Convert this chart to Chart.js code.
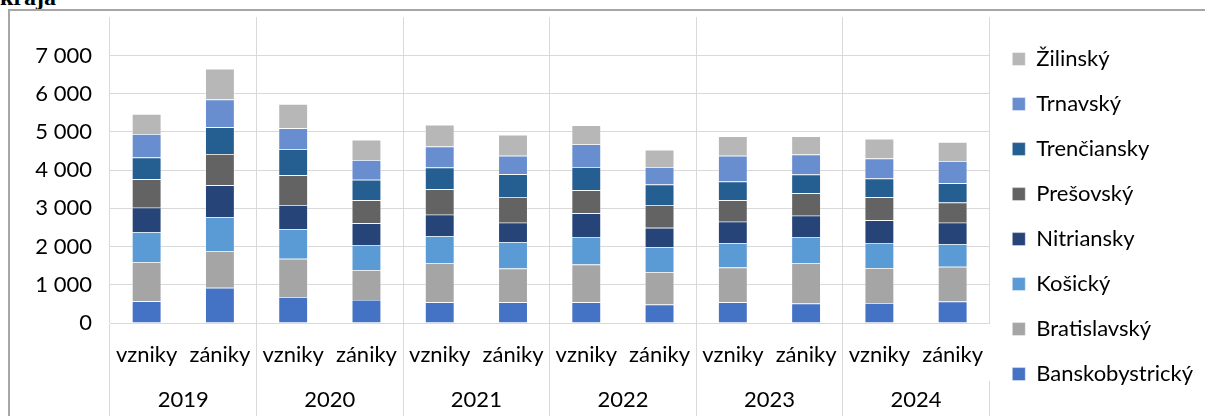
<!DOCTYPE html>
<html>
<head>
<meta charset="utf-8">
<script src="https://cdn.jsdelivr.net/npm/chart.js@4.4.1/dist/chart.umd.min.js"></script>
<style>
  body { margin: 0; background: #fff; width: 1205px; height: 416px; overflow: hidden; position: relative; }
  #title { position: absolute; left: 0; top: -16px; font: bold 24px "Liberation Serif", serif; color: #000; }
  #frame { position: absolute; left: 8px; top: 9px; width: 1205px; height: 420px; border: 2px solid #a6a6a6; box-sizing: border-box; }
  #wrap { position: absolute; left: 10px; top: 4px; width: 1195px; height: 412px; }
</style>
</head>
<body>
<div id="title">kraja</div>
<div id="frame"></div>
<div id="wrap"><canvas id="chartBar"></canvas></div>
<script>
const years = ["2019", "2020", "2021", "2022", "2023", "2024"];
const kinds = ["vzniky", "zániky"];
const yTicks = [0, 1000, 2000, 3000, 4000, 5000, 6000, 7000];

// bars in order: 2019 vzniky, 2019 zániky, 2020 vzniky, ...
const banskobystricky = [569, 919, 682, 604, 542, 542, 542, 481, 542, 507, 525, 560];
const bratislavsky    = [1023, 962, 998, 778, 1024, 884, 989, 849, 910, 1059, 910, 910];
const kosicky         = [788, 892, 778, 648, 709, 691, 709, 656, 639, 674, 647, 595];
const nitriansky      = [638, 832, 630, 577, 560, 508, 630, 507, 560, 568, 604, 560];
const presovsky       = [744, 813, 779, 604, 665, 673, 603, 595, 560, 587, 604, 525];
const trenciansky     = [569, 700, 674, 534, 568, 595, 604, 534, 490, 490, 490, 507];
const trnavsky        = [612, 726, 551, 516, 551, 481, 595, 455, 673, 524, 524, 577];
const zilinsky        = [525, 805, 639, 533, 569, 552, 499, 455, 508, 473, 517, 499];

const labelsBar = [];
years.forEach(function(){ kinds.forEach(function(k){ labelsBar.push(k) }) });

const gridGray = "#d9d9d9";
const font = { family: "Lato, 'Open Sans', sans-serif", size: 22 };

function ds(label, data, color){
  return { label: label, data: data, backgroundColor: color, borderColor: "rgba(255,255,255,0.6)", borderWidth: 0.7 };
}

const dataBar = {
  labels: labelsBar,
  datasets: [
    ds("Banskobystrický", banskobystricky, "#4472C4"),
    ds("Bratislavský", bratislavsky, "#A5A5A5"),
    ds("Košický", kosicky, "#5B9BD5"),
    ds("Nitriansky", nitriansky, "#264478"),
    ds("Prešovský", presovsky, "#636363"),
    ds("Trenčiansky", trenciansky, "#255E91"),
    ds("Trnavský", trnavsky, "#698ED0"),
    ds("Žilinský", zilinsky, "#B7B7B7"),
  ],
};

const configBar = {
  type: "bar",
  data: dataBar,
  options: {
    responsive: true,
    maintainAspectRatio: false,
    animation: false,
    categoryPercentage: 1,
    barPercentage: 0.4,
    layout: { padding: { top: 0, right: 2 } },
    plugins: {
      tooltip: { enabled: false },
      legend: {
        position: "right",
        reverse: true,
        // empty title only nudges the item column down a little
        title: { display: true, text: "", font: { size: 1 }, padding: { top: 12, bottom: 0 } },
        labels: { boxWidth: 13, boxHeight: 13, padding: 23, color: "#000", font: font }
      }
    },
    scales: {
      x: {
        stacked: true,
        offset: true,
        border: { display: true, color: gridGray },
        grid: {
          offset: true, drawOnChartArea: false, tickLength: 58, lineWidth: 1,
          color: function(ctx){ return ctx.index % 2 === 0 ? gridGray : "rgba(0,0,0,0)" }
        },
        ticks: { color: "#000", font: font, padding: -39, maxRotation: 0, autoSkip: false },
        afterFit: function(s){ s.height = 58 }
      },
      x2: {
        type: "category",
        axis: "x",
        position: "bottom",
        labels: years,
        offset: true,
        border: { display: false },
        grid: { offset: true, drawOnChartArea: true, tickLength: 35, color: gridGray, lineWidth: 1 },
        ticks: { color: "#000", font: font, padding: -29, maxRotation: 0 },
        afterFit: function(s){ s.height = 35 }
      },
      y: {
        stacked: true,
        min: 0,
        max: 8000,
        border: { display: false },
        afterBuildTicks: function(s){ s.ticks = yTicks.concat([8000]).map(function(v){ return { value: v } }) },
        grid: { drawTicks: true, tickLength: 18, tickColor: "rgba(0,0,0,0)", lineWidth: 1, color: gridGray },
        ticks: {
          color: "#000", font: font, padding: 0,
          callback: function(v){ return v === 8000 ? null : String(v).replace(/\B(?=(\d{3})+(?!\d))/g, " ") }
        },
        afterFit: function(s){ s.width = 100 }
      }
    }
  }
};

var chartBar = new Chart(document.getElementById("chartBar"), configBar);
</script>
</body>
</html>
